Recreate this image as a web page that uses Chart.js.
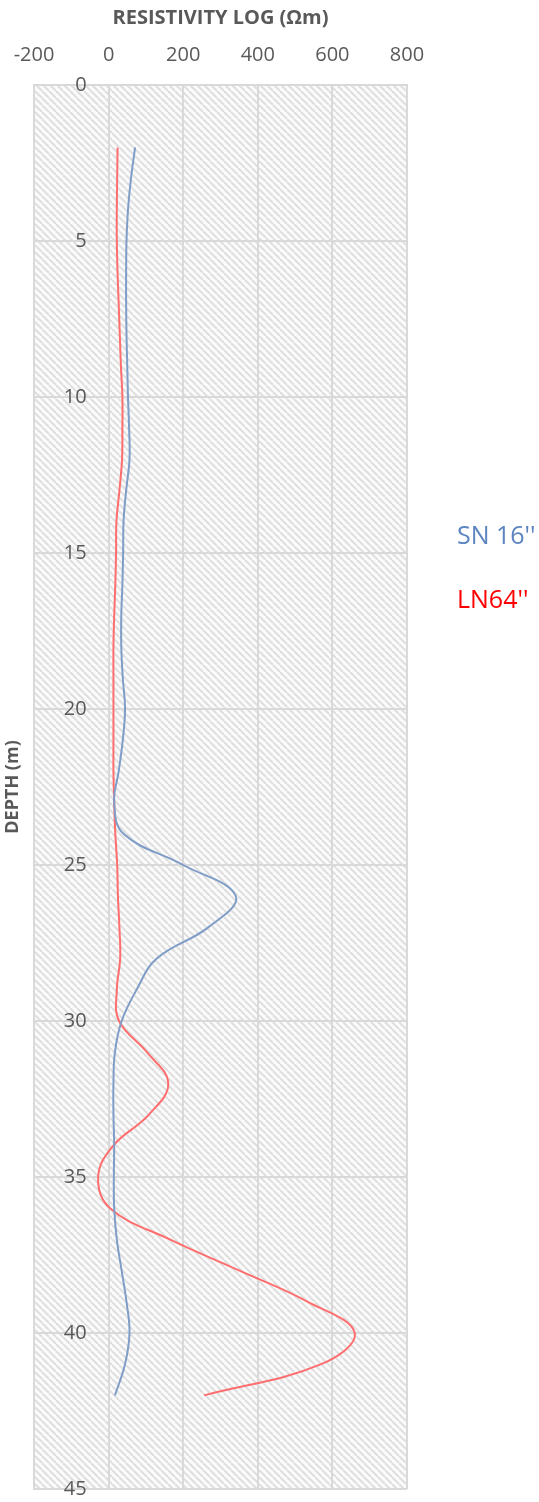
<!DOCTYPE html>
<html>
<head>
<meta charset="utf-8">
<script src="https://cdn.jsdelivr.net/npm/chart.js@4"></script>
<style>
  html, body { margin: 0; padding: 0; background: #ffffff; }
  #log { display: block; }
</style>
</head>
<body>
<canvas id="log" width="539" height="1502"></canvas>
<script>
// Depth of each reading (m)
const depths = [2,3,4,5,6,7,8,9,10,11,12,13,14,15,16,17,18,19,20,21,22,23,24,25,26,27,28,29,30,31,32,33,34,35,36,37,38,39,40,41,42];
// Short normal 16'' resistivity (Ωm)
const sn16 = [71,60,52,48,47,47,48,50,52,55,56,47,40,39,37,34,34,38,44,38,27,15,40,200,341,267,129,75,35,17,13,13,15,14,15,22,35,48,56,44,17];
// Long normal 64'' resistivity (Ωm)
const ln64 = [24,23,22,22,24,27,30,33,37,37,36,29,21,20,18,15,13,13,13,13,13,15,18,23,25,29,31,22,28,103,160,108,12,-28,4,164,351,534,660,570,256];
// Axis ticks
const resistivityTicks = [-200,0,200,400,600,800];
const depthTicks = [0,5,10,15,20,25,30,35,40,45];
const seriesNames = ["SN 16''", "LN64''"];

const FONT = "'Open Sans', 'DejaVu Sans', sans-serif";
const TEXT = '#595959';
const GRID = '#d9d9d9';

function toPoints(vals) {
  return vals.map((v, i) => ({ x: v, y: depths[i] }));
}

// Diagonal hatch tile for the plot background
function hatchPattern(ctx) {
  const n = 7;
  const tile = document.createElement('canvas');
  tile.width = n; tile.height = n;
  const t = tile.getContext('2d');
  t.fillStyle = '#fbfbfb';
  t.fillRect(0, 0, n, n);
  t.strokeStyle = '#dedede';
  t.lineWidth = 2;
  for (let k = -1; k <= 1; k++) {
    t.beginPath();
    t.moveTo(k * n, 0);
    t.lineTo(k * n + n, n);
    t.stroke();
  }
  return ctx.createPattern(tile, 'repeat');
}

const hatchBackground = {
  id: 'hatchBackground',
  beforeDraw(chart) {
    const { ctx, chartArea: a } = chart;
    ctx.save();
    ctx.fillStyle = hatchPattern(ctx);
    ctx.fillRect(a.left, a.top, a.right - a.left, a.bottom - a.top);
    ctx.restore();
  }
};

// Depth labels sit beside the zero-resistivity line
const depthLabels = {
  id: 'depthLabels',
  afterDraw(chart) {
    const { ctx, scales: { x, y } } = chart;
    const x0 = x.getPixelForValue(0);
    ctx.save();
    ctx.font = '20px ' + FONT;
    ctx.fillStyle = TEXT;
    ctx.textAlign = 'right';
    ctx.textBaseline = 'middle';
    depthTicks.forEach(d => ctx.fillText(String(d), x0 - 22, y.getPixelForValue(d)));
    ctx.restore();
  }
};

// Series names written in their line colours to the right of the plot
const seriesKey = {
  id: 'seriesKey',
  afterDraw(chart) {
    const { ctx } = chart;
    const rows = [537, 601];
    const colors = ['#5b84c0', '#ff0000'];
    ctx.save();
    ctx.font = '25px ' + FONT;
    ctx.textAlign = 'left';
    ctx.textBaseline = 'middle';
    chart.data.datasets.forEach((ds, i) => {
      ctx.fillStyle = colors[i];
      ctx.fillText(ds.label, 457, rows[i]);
    });
    ctx.restore();
  }
};

new Chart(document.getElementById('log'), {
  type: 'scatter',
  data: {
    datasets: [
      { label: seriesNames[0], data: toPoints(sn16), showLine: true, borderColor: '#7f9dc7', borderWidth: 2, pointRadius: 0, tension: 0.4 },
      { label: seriesNames[1], data: toPoints(ln64), showLine: true, borderColor: '#ff6e6e', borderWidth: 2, pointRadius: 0, tension: 0.4 }
    ]
  },
  options: {
    responsive: false,
    animation: false,
    devicePixelRatio: 1,
    layout: { padding: { left: 0, top: 0, right: 132, bottom: 13 } },
    plugins: { legend: { display: false }, tooltip: { enabled: false } },
    scales: {
      x: {
        type: 'linear',
        position: 'top',
        min: -200, max: 800,
        afterBuildTicks: s => { s.ticks = resistivityTicks.map(v => ({ value: v })); },
        afterFit: s => { s.height = 85; s.paddingLeft = 0; s.paddingRight = 0; },
        grid: { color: GRID, lineWidth: 2, drawTicks: false },
        border: { color: GRID, width: 2 },
        ticks: { color: TEXT, font: { family: FONT, size: 20 }, padding: 18, autoSkip: false, maxRotation: 0 },
        title: { display: true, text: 'RESISTIVITY LOG (Ωm)', color: TEXT, font: { family: FONT, size: 20, weight: 'bold' }, padding: { top: 6, bottom: 0 } }
      },
      y: {
        type: 'linear',
        reverse: true,
        min: 0, max: 45,
        afterBuildTicks: s => { s.ticks = depthTicks.map(v => ({ value: v })); },
        afterFit: s => { s.width = 34; s.paddingTop = 0; s.paddingBottom = 0; },
        grid: { color: GRID, lineWidth: 2, drawTicks: false },
        border: { color: GRID, width: 2 },
        ticks: { display: false },
        title: { display: true, text: 'DEPTH (m)', color: TEXT, font: { family: FONT, size: 18, weight: 'bold' }, padding: { top: 2, bottom: 0 } }
      }
    }
  },
  plugins: [hatchBackground, depthLabels, seriesKey]
});
</script>
</body>
</html>
